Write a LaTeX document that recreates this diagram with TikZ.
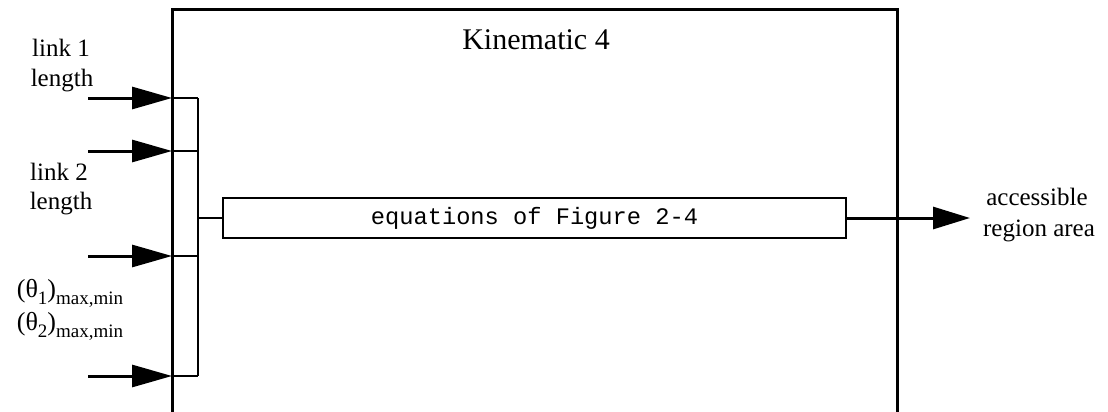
\documentclass[tikz,border=0pt]{standalone}
\usepackage{fontspec}
\setmainfont{Liberation Serif}
\setmonofont{Liberation Mono}
\usetikzlibrary{arrows.meta}
\newcommand{\mysub}[1]{\raisebox{-0.28em}{\fontsize{19}{22}\selectfont #1}}
\begin{document}
\begin{tikzpicture}[x=1pt,y=-1pt,
  lbl/.style={font=\fontsize{25}{30}\selectfont, inner sep=0pt, anchor=base},
  thlbl/.style={font=\fontsize{26}{30}\selectfont, inner sep=0pt, anchor=base},
  outer/.style={line width=3pt, line join=miter},
  bus/.style={line width=1.6pt},
  port/.style={line width=2pt},
  inarrow/.style={line width=3pt, -{Triangle[length=40pt,width=22pt]}},
  outarrow/.style={line width=3pt, -{Triangle[length=37pt,width=22pt]}},
]
\useasboundingbox (0,0) rectangle (1108,412);
% outer block
\coordinate (obl) at (172,414);
\coordinate (otl) at (172,10);
\coordinate (otr) at (897,10);
\coordinate (obr) at (897,414);
\draw[outer] (obl) -- (otl) -- (otr) -- (obr);
\node[font=\fontsize{30}{36}\selectfont, inner sep=0pt, anchor=base] (title) at (536,49) {Kinematic 4};
% ports
\coordinate (p1) at (172,98);
\coordinate (p2) at (172,151);
\coordinate (p3) at (172,256);
\coordinate (p4) at (172,376);
\coordinate (b1) at (198,98);
\coordinate (b2) at (198,151);
\coordinate (b3) at (198,256);
\coordinate (b4) at (198,376);
\coordinate (b5) at (198,218);
\coordinate (s1) at (88,98);
\coordinate (s2) at (88,151);
\coordinate (s3) at (88,256);
\coordinate (s4) at (88,376);
\draw[bus] (b1) -- (b4);
\draw[port] (p1) -- (b1);
\draw[port] (p2) -- (b2);
\draw[port] (p3) -- (b3);
\draw[port] (p4) -- (b4);
\draw[inarrow] (s1) -- (p1);
\draw[inarrow] (s2) -- (p2);
\draw[inarrow] (s3) -- (p3);
\draw[inarrow] (s4) -- (p4);
% inner block
\node[draw, line width=1.5pt, minimum width=623pt, minimum height=40pt, inner sep=0pt,
      font=\ttfamily\fontsize{23.7}{28}\selectfont] (eq) at (534.5,218) {equations of Figure 2-4};
\draw[bus] (b5) -- (eq.west);
\coordinate (out) at (970,218);
\draw[outarrow] (eq.east) -- (out);
% labels
\node[lbl] (l1a) at (61,57) {link 1};
\node[lbl] (l1b) at (62,86) {length};
\node[lbl] (l2a) at (59,180) {link 2};
\node[lbl] (l2b) at (61,209) {length};
\node[thlbl] (t1) at (70,297) {(θ\mysub{1})\mysub{max,min}};
\node[thlbl] (t2) at (70,330) {(θ\mysub{2})\mysub{max,min}};
\node[lbl] (o1) at (1037,205) {accessible};
\node[lbl] (o2) at (1039,236) {region area};
\end{tikzpicture}
\end{document}
